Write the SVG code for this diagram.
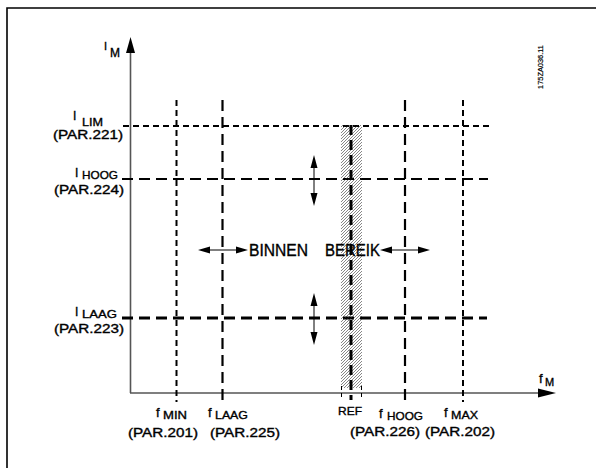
<svg xmlns="http://www.w3.org/2000/svg" width="596" height="468" viewBox="0 0 596 468">
<style>
text{font-family:"Liberation Sans",Arial,sans-serif;fill:#000;stroke:#000;stroke-width:0.35}
.lab{font-size:12px}
.sub{font-size:11px}
.thin{stroke:#000;stroke-width:2;stroke-dasharray:6 4;fill:none}
.thick{stroke:#000;stroke-width:2.2;stroke-dasharray:11 6;fill:none}
.ax{stroke:#555;stroke-width:1.6;fill:none}
.arr{stroke:#000;stroke-width:1;fill:none}
</style>
<defs>
<pattern id="hatch" patternUnits="userSpaceOnUse" width="3" height="3">
<path d="M-1,1 L1,-1 M0,3 L3,0 M2,4 L4,2" stroke="#222" stroke-width="0.55"/>
</pattern>
</defs>
<rect width="596" height="468" fill="#fff"/>
<path d="M7,468 V8 H596" stroke="#000" stroke-width="1.6" fill="none"/>
<g id="axes">
<path class="ax" d="M130.5,393 V52"/>
<path d="M130.5,37 L126,53 L135,53 Z" fill="#000"/>
<path class="ax" d="M130,393 H540"/>
<path d="M556,393 L538,388.5 L538,397.5 Z" fill="#000"/>
<text x="104" y="50" style="font-size:11px">I</text>
<text x="110" y="57" class="lab">M</text>
<text x="539" y="383" style="font-size:13px">f</text>
<text x="545" y="386" class="sub">M</text>
</g>
<g id="connectors">
<path class="thin" d="M123,126 H489"/>
<path class="thick" d="M122,179 H488"/>
<path class="thick" d="M122,318 H487" style="stroke-width:3"/>
<path class="thin" d="M176.5,100 V402"/>
<path class="thick" d="M222.5,100 V400"/>
<path class="thick" d="M405,100 V400"/>
<path class="thin" d="M463,100 V402"/>
<path class="arr" d="M314,160 V200"/>
<path d="M314,155 L310.5,168 L317.5,168 Z M314,206 L310.5,193 L317.5,193 Z" fill="#000"/>
<path class="arr" d="M314,298 V340"/>
<path d="M314,293 L310.5,306 L317.5,306 Z M314,345 L310.5,332 L317.5,332 Z" fill="#000"/>
<path class="arr" d="M203,250 H243"/>
<path d="M198,250 L210,246.5 L210,253.5 Z M248,250 L236,246.5 L236,253.5 Z" fill="#000"/>
<path class="arr" d="M385,250 H425"/>
<path d="M380,250 L392,246.5 L392,253.5 Z M430,250 L418,246.5 L418,253.5 Z" fill="#000"/>
</g>
<g id="binnen">
<text y="256" style="font-size:16px"><tspan x="249" textLength="59" lengthAdjust="spacingAndGlyphs">BINNEN</tspan><tspan x="325" textLength="55" lengthAdjust="spacingAndGlyphs">BEREIK</tspan></text>
</g>
<g id="ref">
<rect x="341" y="125" width="21" height="263" fill="url(#hatch)"/>
<path d="M341.5,386 V400 M361.5,386 V400" stroke="#000" stroke-width="1" stroke-dasharray="4 3"/>
<path class="thick" d="M351,125 V400" style="stroke-width:3;stroke-dasharray:10 5"/>
<text x="338" y="415" style="font-size:11px" textLength="24" lengthAdjust="spacingAndGlyphs">REF</text>
</g>
<g id="ilim">
<text x="73" y="120" class="lab">I</text>
<text x="82" y="126" class="sub" textLength="21" lengthAdjust="spacingAndGlyphs">LIM</text>
<text x="53" y="139" class="lab" textLength="70" lengthAdjust="spacingAndGlyphs">(PAR.221)</text>
</g>
<g id="ihoog">
<text x="75" y="177" class="lab">I</text>
<text x="82" y="179" class="sub" textLength="36" lengthAdjust="spacingAndGlyphs">HOOG</text>
<text x="54" y="194" class="lab" textLength="70" lengthAdjust="spacingAndGlyphs">(PAR.224)</text>
</g>
<g id="ilaag">
<text x="75" y="316" class="lab">I</text>
<text x="82" y="318" class="sub" textLength="35" lengthAdjust="spacingAndGlyphs">LAAG</text>
<text x="54" y="333" class="lab" textLength="70" lengthAdjust="spacingAndGlyphs">(PAR.223)</text>
</g>
<g id="fmin">
<text x="156" y="417" style="font-size:13px">f</text>
<text x="163" y="419" class="sub" textLength="24" lengthAdjust="spacingAndGlyphs">MIN</text>
<text x="128" y="437" class="lab" textLength="70" lengthAdjust="spacingAndGlyphs">(PAR.201)</text>
</g>
<g id="flaag">
<text x="208" y="417" style="font-size:13px">f</text>
<text x="215" y="419" class="sub" textLength="33" lengthAdjust="spacingAndGlyphs">LAAG</text>
<text x="210" y="437" class="lab" textLength="70" lengthAdjust="spacingAndGlyphs">(PAR.225)</text>
</g>
<g id="fhoog">
<text x="379" y="418" style="font-size:13px">f</text>
<text x="387" y="420" class="sub" textLength="36" lengthAdjust="spacingAndGlyphs">HOOG</text>
<text x="350" y="436" class="lab" textLength="70" lengthAdjust="spacingAndGlyphs">(PAR.226)</text>
</g>
<g id="fmax">
<text x="444" y="417" style="font-size:13px">f</text>
<text x="451" y="419" class="sub" textLength="27" lengthAdjust="spacingAndGlyphs">MAX</text>
<text x="425" y="436" class="lab" textLength="70" lengthAdjust="spacingAndGlyphs">(PAR.202)</text>
</g>
<text transform="translate(542.5,89) rotate(-90)" style="font-size:8px;stroke-width:0.2" textLength="44" lengthAdjust="spacingAndGlyphs">175ZA036.11</text>
</svg>
